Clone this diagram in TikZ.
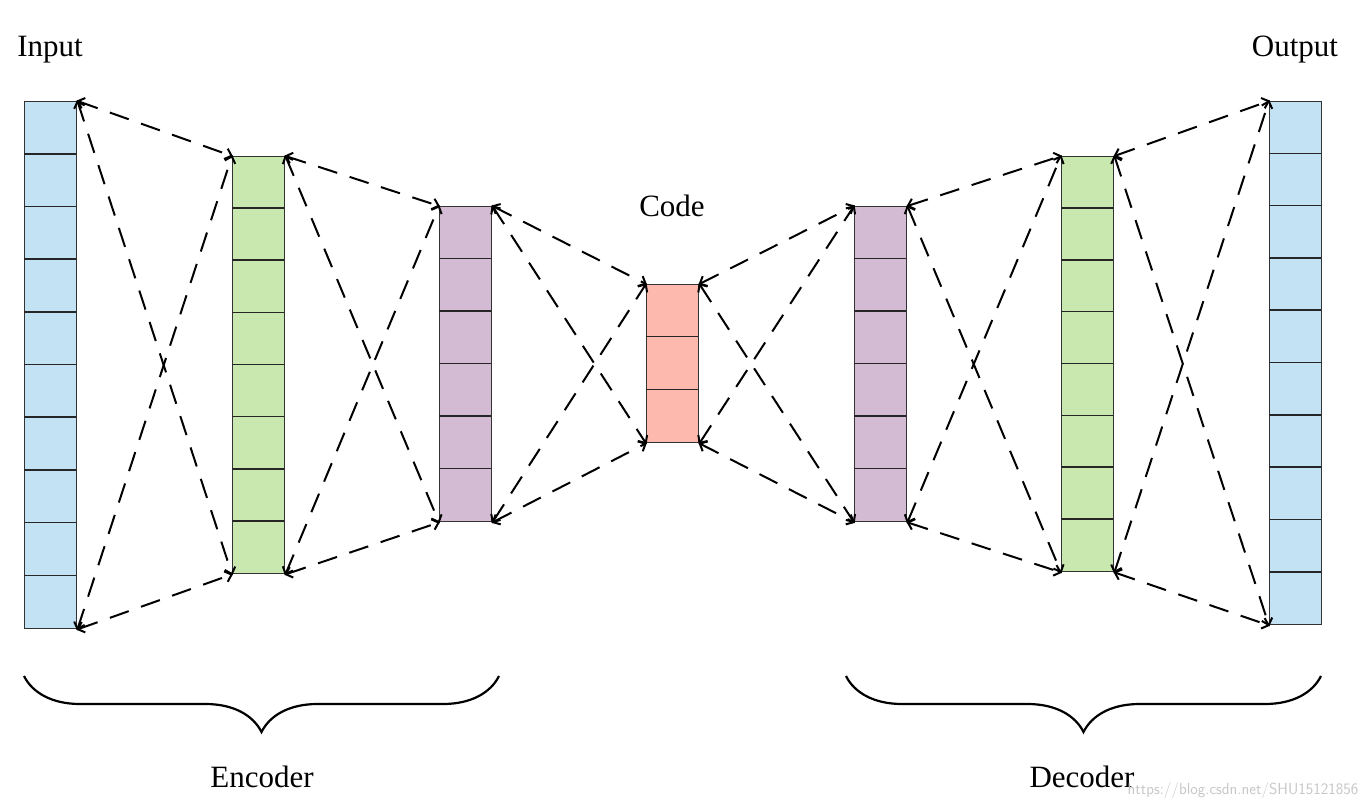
\documentclass[tikz,border=0pt]{standalone}
\usepackage{fontspec}
\setmainfont{Liberation Serif}
\usetikzlibrary{decorations.pathreplacing,arrows.meta}
\definecolor{cblue}{HTML}{C3E3F4}
\definecolor{cgreen}{HTML}{C8E8B0}
\definecolor{cpurple}{HTML}{D3BCD3}
\definecolor{cred}{HTML}{FEB9AF}
\begin{document}
\begin{tikzpicture}[x=1pt,y=-1pt,
  conn/.style={dash pattern=on 20pt off 13pt, line width=2pt, {Straight Barb[length=6pt,width=11pt]}-{Straight Barb[length=6pt,width=11pt]}, shorten <=-1pt, shorten >=-1pt},
  lbl/.style={font=\fontsize{31}{36}\selectfont},
  brace/.style={decorate,decoration={brace,amplitude=56pt,mirror,aspect=0.5},line width=2.2pt}]
\useasboundingbox (0,0) rectangle (1369,809);
\foreach \nm/\xa/\ya/\yb/\n/\col in {in/24/101/628/10/cblue, ea/232/156/573/8/cgreen, eb/439/206/521/6/cpurple, co/646/284/442/3/cred, da/854/206/521/6/cpurple, db/1061/156/571/8/cgreen, out/1269/101/624/10/cblue}{
  \node[draw=black!80,fill=\col,line width=1.4pt,inner sep=0,minimum width=52pt,minimum height={\yb-\ya},anchor=north west] (\nm) at (\xa,\ya) {};
  \foreach \i in {1,...,\n}{\ifnum\i<\n \draw[black!85,line width=1.6pt] (\xa,{\ya+(\yb-\ya)*\i/\n}) -- ++(52,0);\fi}
}
\foreach \a/\b in {in/ea, ea/eb, eb/co, co/da, da/db, db/out}{
  \draw[conn] (\a.north east) -- (\b.north west);
  \draw[conn] (\a.north east) -- (\b.south west);
  \draw[conn] (\a.south east) -- (\b.north west);
  \draw[conn] (\a.south east) -- (\b.south west);
}
\node[lbl] (tin) at (50,50) {Input};
\node[lbl] (tout) at (1295,50) {Output};
\node[lbl] (tco) at (672,206) {Code};
\coordinate (b1) at (24,676); \coordinate (b2) at (499,676);
\coordinate (b3) at (846,676); \coordinate (b4) at (1321,676);
\draw[brace] (b1) -- (b2);
\draw[brace] (b3) -- (b4);
\node[lbl] (tenc) at (262,777) {Encoder};
\node[lbl] (tdec) at (1082,777) {Decoder};
\node[font=\fontsize{16}{18}\selectfont\sffamily,text=black!22,anchor=east] (wm) at (1362,790) {https://blog.csdn.net/SHU15121856};
\end{tikzpicture}
\end{document}
